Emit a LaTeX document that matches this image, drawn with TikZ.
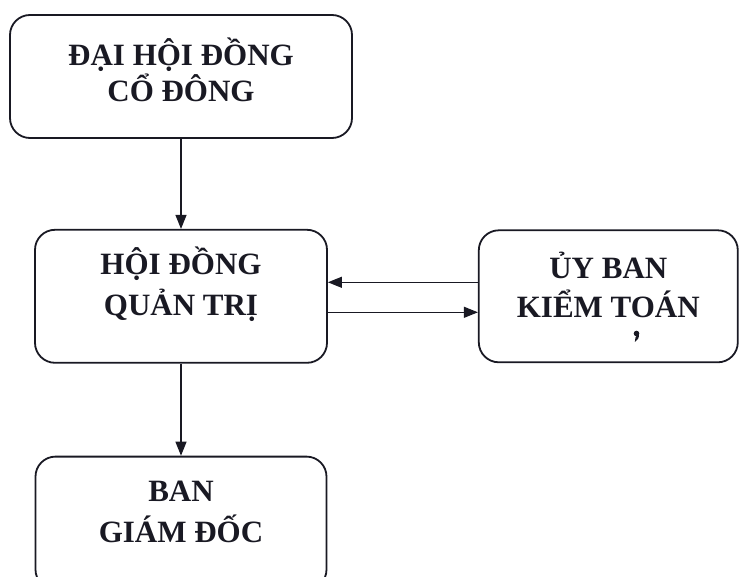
\documentclass[tikz,border=0pt]{standalone}
\usepackage{fontspec}
\setmainfont{Liberation Serif}
\usepackage{xcolor}
\usepackage{tikz}
\usetikzlibrary{positioning,arrows.meta}

\definecolor{ink}{RGB}{25,25,35}

\begin{document}
\begin{tikzpicture}[x=1pt,y=1pt]
\tikzstyle{block} = [rectangle, draw=ink, line width=1.8pt, rounded corners=20pt, align=center, font=\fontsize{31}{41}\selectfont\bfseries, text=ink]
\tikzstyle{arrow} = [line width=1.2pt, draw=ink, -{Triangle[length=14pt,width=11pt]}]

\useasboundingbox (0,0) rectangle (739,-577);

\node (dhcd) [block, minimum width=342pt, minimum height=123pt, text depth=14pt, font=\fontsize{31}{36}\selectfont\bfseries] at (181,-76.5) {ĐẠI HỘI ĐỒNG\\CỔ ĐÔNG};
\node (hdqt) [block, minimum width=292pt, minimum height=133pt, text depth=30pt, below=90pt of dhcd] {HỘI ĐỒNG\\QUẢN TRỊ};
\node (ubkt) [block, minimum width=259pt, minimum height=132pt, text depth=24pt, font=\fontsize{31}{39}\selectfont\bfseries, right=150pt of hdqt] {ỦY BAN\\KIỂM TOÁN};
\node (bgd) [block, minimum width=291pt, minimum height=133pt, text depth=22pt, below=92pt of hdqt] {BAN\\GIÁM ĐỐC};

% speck below the committee name
\fill [ink] (636.5,-333.5) circle (2.8pt);
\fill [ink] (639,-334) .. controls (639.2,-338) and (637.5,-340.5) .. (634.8,-342) -- (635.6,-337) -- cycle;

\draw [arrow] (dhcd) -- (hdqt);
\draw [arrow] ([yshift=14pt]ubkt.west) -- ([yshift=14pt]hdqt.east);
\draw [arrow] ([yshift=-16pt]hdqt.east) -- ([yshift=-16pt]ubkt.west);
\draw [arrow] (hdqt) -- (bgd);

\end{tikzpicture}
\end{document}
